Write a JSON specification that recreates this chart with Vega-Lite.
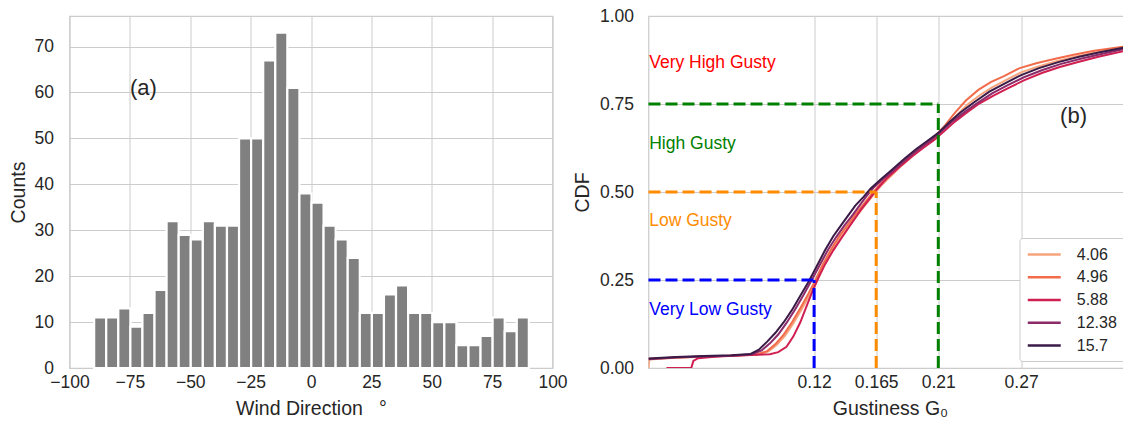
{
  "$schema": "https://vega.github.io/schema/vega-lite/v6.json",
  "background": "white",
  "padding": {"left": 6.5, "top": 6, "right": 0, "bottom": 0},
  "config": {
    "font": "Liberation Sans",
    "view": {"stroke": "#cccccc", "strokeWidth": 1.25},
    "axis": {
      "grid": true,
      "gridColor": "#cccccc",
      "gridWidth": 1,
      "domain": false,
      "ticks": false,
      "labelFlush": false,
      "labelFontSize": 17.5,
      "labelColor": "#262626",
      "titleFontSize": 19.5,
      "titleFontWeight": "normal",
      "titleColor": "#262626"
    }
  },
  "datasets": {
    "hist": [
      {"bin_start": -90, "bin_end": -85, "count": 11},
      {"bin_start": -85, "bin_end": -80, "count": 11},
      {"bin_start": -80, "bin_end": -75, "count": 13},
      {"bin_start": -75, "bin_end": -70, "count": 9},
      {"bin_start": -70, "bin_end": -65, "count": 12},
      {"bin_start": -65, "bin_end": -60, "count": 17},
      {"bin_start": -60, "bin_end": -55, "count": 32},
      {"bin_start": -55, "bin_end": -50, "count": 29},
      {"bin_start": -50, "bin_end": -45, "count": 28},
      {"bin_start": -45, "bin_end": -40, "count": 32},
      {"bin_start": -40, "bin_end": -35, "count": 31},
      {"bin_start": -35, "bin_end": -30, "count": 31},
      {"bin_start": -30, "bin_end": -25, "count": 50},
      {"bin_start": -25, "bin_end": -20, "count": 50},
      {"bin_start": -20, "bin_end": -15, "count": 67},
      {"bin_start": -15, "bin_end": -10, "count": 73},
      {"bin_start": -10, "bin_end": -5, "count": 61},
      {"bin_start": -5, "bin_end": 0, "count": 38},
      {"bin_start": 0, "bin_end": 5, "count": 36},
      {"bin_start": 5, "bin_end": 10, "count": 31},
      {"bin_start": 10, "bin_end": 15, "count": 28},
      {"bin_start": 15, "bin_end": 20, "count": 24},
      {"bin_start": 20, "bin_end": 25, "count": 12},
      {"bin_start": 25, "bin_end": 30, "count": 12},
      {"bin_start": 30, "bin_end": 35, "count": 16},
      {"bin_start": 35, "bin_end": 40, "count": 18},
      {"bin_start": 40, "bin_end": 45, "count": 12},
      {"bin_start": 45, "bin_end": 50, "count": 12},
      {"bin_start": 50, "bin_end": 55, "count": 10},
      {"bin_start": 55, "bin_end": 60, "count": 10},
      {"bin_start": 60, "bin_end": 65, "count": 5},
      {"bin_start": 65, "bin_end": 70, "count": 5},
      {"bin_start": 70, "bin_end": 75, "count": 7},
      {"bin_start": 75, "bin_end": 80, "count": 11},
      {"bin_start": 80, "bin_end": 85, "count": 8},
      {"bin_start": 85, "bin_end": 90, "count": 11}
    ],
    "cdf": [
      {"g": "4.06", "x": 0.0, "y": 0.0},
      {"g": "4.06", "x": 0.0006, "y": 0.024},
      {"g": "4.06", "x": 0.02, "y": 0.029},
      {"g": "4.06", "x": 0.04, "y": 0.032},
      {"g": "4.06", "x": 0.06, "y": 0.035},
      {"g": "4.06", "x": 0.079, "y": 0.038},
      {"g": "4.06", "x": 0.087, "y": 0.047},
      {"g": "4.06", "x": 0.093, "y": 0.066},
      {"g": "4.06", "x": 0.099, "y": 0.092},
      {"g": "4.06", "x": 0.105, "y": 0.127},
      {"g": "4.06", "x": 0.111, "y": 0.167},
      {"g": "4.06", "x": 0.117, "y": 0.21},
      {"g": "4.06", "x": 0.122, "y": 0.248},
      {"g": "4.06", "x": 0.127, "y": 0.29},
      {"g": "4.06", "x": 0.133, "y": 0.333},
      {"g": "4.06", "x": 0.139, "y": 0.37},
      {"g": "4.06", "x": 0.145, "y": 0.402},
      {"g": "4.06", "x": 0.151, "y": 0.433},
      {"g": "4.06", "x": 0.157, "y": 0.463},
      {"g": "4.06", "x": 0.163, "y": 0.492},
      {"g": "4.06", "x": 0.169, "y": 0.52},
      {"g": "4.06", "x": 0.176, "y": 0.547},
      {"g": "4.06", "x": 0.184, "y": 0.577},
      {"g": "4.06", "x": 0.193, "y": 0.608},
      {"g": "4.06", "x": 0.201, "y": 0.634},
      {"g": "4.06", "x": 0.209, "y": 0.659},
      {"g": "4.06", "x": 0.216, "y": 0.688},
      {"g": "4.06", "x": 0.223, "y": 0.717},
      {"g": "4.06", "x": 0.231, "y": 0.748},
      {"g": "4.06", "x": 0.24, "y": 0.775},
      {"g": "4.06", "x": 0.249, "y": 0.797},
      {"g": "4.06", "x": 0.259, "y": 0.818},
      {"g": "4.06", "x": 0.27, "y": 0.84},
      {"g": "4.06", "x": 0.282, "y": 0.856},
      {"g": "4.06", "x": 0.295, "y": 0.871},
      {"g": "4.06", "x": 0.309, "y": 0.884},
      {"g": "4.06", "x": 0.324, "y": 0.896},
      {"g": "4.06", "x": 0.35, "y": 0.912},

      {"g": "4.96", "x": 0.0, "y": 0.026},
      {"g": "4.96", "x": 0.02, "y": 0.03},
      {"g": "4.96", "x": 0.04, "y": 0.033},
      {"g": "4.96", "x": 0.06, "y": 0.035},
      {"g": "4.96", "x": 0.078, "y": 0.038},
      {"g": "4.96", "x": 0.086, "y": 0.048},
      {"g": "4.96", "x": 0.092, "y": 0.068},
      {"g": "4.96", "x": 0.098, "y": 0.095},
      {"g": "4.96", "x": 0.104, "y": 0.13},
      {"g": "4.96", "x": 0.11, "y": 0.17},
      {"g": "4.96", "x": 0.116, "y": 0.212},
      {"g": "4.96", "x": 0.121, "y": 0.25},
      {"g": "4.96", "x": 0.126, "y": 0.292},
      {"g": "4.96", "x": 0.132, "y": 0.335},
      {"g": "4.96", "x": 0.138, "y": 0.373},
      {"g": "4.96", "x": 0.144, "y": 0.405},
      {"g": "4.96", "x": 0.15, "y": 0.437},
      {"g": "4.96", "x": 0.156, "y": 0.466},
      {"g": "4.96", "x": 0.162, "y": 0.495},
      {"g": "4.96", "x": 0.168, "y": 0.522},
      {"g": "4.96", "x": 0.175, "y": 0.548},
      {"g": "4.96", "x": 0.183, "y": 0.578},
      {"g": "4.96", "x": 0.192, "y": 0.61},
      {"g": "4.96", "x": 0.2, "y": 0.636},
      {"g": "4.96", "x": 0.208, "y": 0.66},
      {"g": "4.96", "x": 0.215, "y": 0.69},
      {"g": "4.96", "x": 0.222, "y": 0.725},
      {"g": "4.96", "x": 0.23, "y": 0.76},
      {"g": "4.96", "x": 0.239, "y": 0.79},
      {"g": "4.96", "x": 0.248, "y": 0.812},
      {"g": "4.96", "x": 0.258, "y": 0.83},
      {"g": "4.96", "x": 0.269, "y": 0.852},
      {"g": "4.96", "x": 0.281, "y": 0.866},
      {"g": "4.96", "x": 0.294, "y": 0.878},
      {"g": "4.96", "x": 0.308, "y": 0.89},
      {"g": "4.96", "x": 0.323, "y": 0.901},
      {"g": "4.96", "x": 0.35, "y": 0.916},

      {"g": "5.88", "x": 0.013, "y": 0.0},
      {"g": "5.88", "x": 0.031, "y": 0.0},
      {"g": "5.88", "x": 0.0325, "y": 0.02},
      {"g": "5.88", "x": 0.036, "y": 0.028},
      {"g": "5.88", "x": 0.05, "y": 0.033},
      {"g": "5.88", "x": 0.07, "y": 0.036},
      {"g": "5.88", "x": 0.088, "y": 0.039},
      {"g": "5.88", "x": 0.094, "y": 0.045},
      {"g": "5.88", "x": 0.1, "y": 0.06},
      {"g": "5.88", "x": 0.105, "y": 0.09},
      {"g": "5.88", "x": 0.11, "y": 0.13},
      {"g": "5.88", "x": 0.115, "y": 0.18},
      {"g": "5.88", "x": 0.119, "y": 0.22},
      {"g": "5.88", "x": 0.123, "y": 0.255},
      {"g": "5.88", "x": 0.128, "y": 0.295},
      {"g": "5.88", "x": 0.134, "y": 0.335},
      {"g": "5.88", "x": 0.14, "y": 0.37},
      {"g": "5.88", "x": 0.147, "y": 0.41},
      {"g": "5.88", "x": 0.154, "y": 0.45},
      {"g": "5.88", "x": 0.16, "y": 0.48},
      {"g": "5.88", "x": 0.166, "y": 0.51},
      {"g": "5.88", "x": 0.173, "y": 0.54},
      {"g": "5.88", "x": 0.181, "y": 0.568},
      {"g": "5.88", "x": 0.19, "y": 0.598},
      {"g": "5.88", "x": 0.199, "y": 0.625},
      {"g": "5.88", "x": 0.207, "y": 0.648},
      {"g": "5.88", "x": 0.214, "y": 0.672},
      {"g": "5.88", "x": 0.222, "y": 0.7},
      {"g": "5.88", "x": 0.231, "y": 0.727},
      {"g": "5.88", "x": 0.24, "y": 0.752},
      {"g": "5.88", "x": 0.25, "y": 0.774},
      {"g": "5.88", "x": 0.261, "y": 0.796},
      {"g": "5.88", "x": 0.272, "y": 0.817},
      {"g": "5.88", "x": 0.285, "y": 0.838},
      {"g": "5.88", "x": 0.298, "y": 0.855},
      {"g": "5.88", "x": 0.312, "y": 0.87},
      {"g": "5.88", "x": 0.326, "y": 0.884},
      {"g": "5.88", "x": 0.35, "y": 0.905},

      {"g": "12.38", "x": 0.0, "y": 0.025},
      {"g": "12.38", "x": 0.02, "y": 0.03},
      {"g": "12.38", "x": 0.04, "y": 0.033},
      {"g": "12.38", "x": 0.06, "y": 0.035},
      {"g": "12.38", "x": 0.075, "y": 0.039},
      {"g": "12.38", "x": 0.082, "y": 0.05},
      {"g": "12.38", "x": 0.088, "y": 0.07},
      {"g": "12.38", "x": 0.094, "y": 0.095},
      {"g": "12.38", "x": 0.1, "y": 0.128},
      {"g": "12.38", "x": 0.106, "y": 0.165},
      {"g": "12.38", "x": 0.112, "y": 0.205},
      {"g": "12.38", "x": 0.118, "y": 0.248},
      {"g": "12.38", "x": 0.124, "y": 0.292},
      {"g": "12.38", "x": 0.13, "y": 0.335},
      {"g": "12.38", "x": 0.136, "y": 0.372},
      {"g": "12.38", "x": 0.142, "y": 0.405},
      {"g": "12.38", "x": 0.148, "y": 0.435},
      {"g": "12.38", "x": 0.153, "y": 0.462},
      {"g": "12.38", "x": 0.158, "y": 0.488},
      {"g": "12.38", "x": 0.163, "y": 0.512},
      {"g": "12.38", "x": 0.17, "y": 0.537},
      {"g": "12.38", "x": 0.178, "y": 0.563},
      {"g": "12.38", "x": 0.187, "y": 0.594},
      {"g": "12.38", "x": 0.196, "y": 0.622},
      {"g": "12.38", "x": 0.204, "y": 0.645},
      {"g": "12.38", "x": 0.211, "y": 0.668},
      {"g": "12.38", "x": 0.219, "y": 0.697},
      {"g": "12.38", "x": 0.228, "y": 0.724},
      {"g": "12.38", "x": 0.238, "y": 0.752},
      {"g": "12.38", "x": 0.249, "y": 0.78},
      {"g": "12.38", "x": 0.26, "y": 0.803},
      {"g": "12.38", "x": 0.272, "y": 0.826},
      {"g": "12.38", "x": 0.285, "y": 0.846},
      {"g": "12.38", "x": 0.299, "y": 0.864},
      {"g": "12.38", "x": 0.314, "y": 0.879},
      {"g": "12.38", "x": 0.329, "y": 0.893},
      {"g": "12.38", "x": 0.35, "y": 0.911},

      {"g": "15.7", "x": 0.0, "y": 0.027},
      {"g": "15.7", "x": 0.02, "y": 0.031},
      {"g": "15.7", "x": 0.04, "y": 0.034},
      {"g": "15.7", "x": 0.06, "y": 0.036},
      {"g": "15.7", "x": 0.074, "y": 0.04},
      {"g": "15.7", "x": 0.08, "y": 0.052},
      {"g": "15.7", "x": 0.086, "y": 0.075},
      {"g": "15.7", "x": 0.092, "y": 0.1},
      {"g": "15.7", "x": 0.098, "y": 0.13},
      {"g": "15.7", "x": 0.104, "y": 0.165},
      {"g": "15.7", "x": 0.11, "y": 0.205},
      {"g": "15.7", "x": 0.116, "y": 0.245},
      {"g": "15.7", "x": 0.122, "y": 0.29},
      {"g": "15.7", "x": 0.128, "y": 0.335},
      {"g": "15.7", "x": 0.134, "y": 0.375},
      {"g": "15.7", "x": 0.14, "y": 0.408},
      {"g": "15.7", "x": 0.145, "y": 0.435},
      {"g": "15.7", "x": 0.15, "y": 0.462},
      {"g": "15.7", "x": 0.156, "y": 0.487},
      {"g": "15.7", "x": 0.161, "y": 0.51},
      {"g": "15.7", "x": 0.168, "y": 0.535},
      {"g": "15.7", "x": 0.176, "y": 0.562},
      {"g": "15.7", "x": 0.185, "y": 0.593},
      {"g": "15.7", "x": 0.194, "y": 0.622},
      {"g": "15.7", "x": 0.202, "y": 0.645},
      {"g": "15.7", "x": 0.21, "y": 0.668},
      {"g": "15.7", "x": 0.218, "y": 0.698},
      {"g": "15.7", "x": 0.226, "y": 0.726},
      {"g": "15.7", "x": 0.236, "y": 0.755},
      {"g": "15.7", "x": 0.247, "y": 0.785},
      {"g": "15.7", "x": 0.258, "y": 0.808},
      {"g": "15.7", "x": 0.27, "y": 0.832},
      {"g": "15.7", "x": 0.283, "y": 0.852},
      {"g": "15.7", "x": 0.297, "y": 0.869},
      {"g": "15.7", "x": 0.312, "y": 0.884},
      {"g": "15.7", "x": 0.327, "y": 0.897},
      {"g": "15.7", "x": 0.35, "y": 0.914}
    ],
    "veryLow": [
      {"x": 0, "x2": 0.12, "y": 0.25, "y2": 0.25},
      {"x": 0.12, "x2": 0.12, "y": 0, "y2": 0.25}
    ],
    "low": [
      {"x": 0, "x2": 0.165, "y": 0.5, "y2": 0.5},
      {"x": 0.165, "x2": 0.165, "y": 0, "y2": 0.5}
    ],
    "high": [
      {"x": 0, "x2": 0.21, "y": 0.75, "y2": 0.75},
      {"x": 0.21, "x2": 0.21, "y": 0, "y2": 0.75}
    ]
  },
  "bounds": "flush",
  "spacing": 96,
  "resolve": {"scale": {"color": "independent"}, "legend": {"color": "independent"}},
  "hconcat": [
    {
      "width": 483,
      "height": 352,
      "layer": [
        {
          "data": {"name": "hist"},
          "mark": {"type": "bar", "color": "#808080", "stroke": "white", "strokeWidth": 2.2, "binSpacing": 0},
          "encoding": {
            "x": {
              "field": "bin_start",
              "type": "quantitative",
              "bin": {"binned": true, "step": 5},
              "scale": {"domain": [-100, 100], "nice": false, "zero": false},
              "axis": {
                "values": [-100, -75, -50, -25, 0, 25, 50, 75, 100],
                "format": "d",
                "title": "Wind Direction\u00a0\u00a0\u00a0°",
                "labelPadding": 5,
                "titlePadding": 9
              }
            },
            "x2": {"field": "bin_end"},
            "y": {
              "field": "count",
              "type": "quantitative",
              "scale": {"domain": [0, 76.65], "nice": false},
              "axis": {
                "values": [0, 10, 20, 30, 40, 50, 60, 70],
                "title": "Counts",
                "labelPadding": 16,
                "titlePadding": 6
              }
            }
          }
        },
        {
          "data": {"values": [{"x": -75, "y": 61, "t": "(a)"}]},
          "mark": {"type": "text", "align": "left", "baseline": "middle", "fontSize": 22, "color": "#262626"},
          "encoding": {
            "x": {"field": "x", "type": "quantitative"},
            "y": {"field": "y", "type": "quantitative"},
            "text": {"field": "t"}
          }
        }
      ]
    },
    {
      "width": 483,
      "height": 352,
      "encoding": {
        "x": {
          "type": "quantitative",
          "scale": {"domain": [0, 0.35], "nice": false, "zero": false},
          "axis": {
            "values": [0.12, 0.165, 0.21, 0.27],
            "format": ".3~f",
            "title": "Gustiness G₀",
            "labelPadding": 5,
            "titlePadding": 9
          }
        },
        "y": {
          "type": "quantitative",
          "scale": {"domain": [0, 1], "nice": false},
          "axis": {
            "values": [0, 0.25, 0.5, 0.75, 1],
            "format": ".2f",
            "title": "CDF",
            "labelPadding": 15,
            "titlePadding": 7
          }
        }
      },
      "layer": [
        {
          "data": {"name": "cdf"},
          "mark": {"type": "line", "strokeWidth": 2, "clip": true},
          "encoding": {
            "x": {"field": "x", "type": "quantitative"},
            "y": {"field": "y", "type": "quantitative"},
            "color": {
              "field": "g",
              "type": "nominal",
              "scale": {
                "domain": ["4.06", "4.96", "5.88", "12.38", "15.7"],
                "range": ["#f6a47c", "#f26b4b", "#d01f51", "#8b2b69", "#3a1b47"]
              },
              "legend": {
                "title": null,
                "orient": "bottom-right",
                "offset": 7,
                "symbolType": "M-2,0H2",
                "symbolStrokeWidth": 2.5,
                "symbolSize": 272,
                "symbolOffset": 8.25,
                "labelFontSize": 16,
                "labelColor": "#262626",
                "labelOffset": 23,
                "rowPadding": 4.75,
                "padding": 7,
                "strokeColor": "#cccccc",
                "fillColor": "white",
                "cornerRadius": 3
              }
            }
          }
        },
        {
          "data": {"name": "veryLow"},
          "mark": {"type": "rule", "color": "#0000ff", "strokeWidth": 3, "strokeDash": [12, 5]},
          "encoding": {
            "x": {"field": "x", "type": "quantitative"},
            "x2": {"field": "x2"},
            "y": {"field": "y", "type": "quantitative"},
            "y2": {"field": "y2"}
          }
        },
        {
          "data": {"name": "low"},
          "mark": {"type": "rule", "color": "#ff8c00", "strokeWidth": 3, "strokeDash": [12, 5]},
          "encoding": {
            "x": {"field": "x", "type": "quantitative"},
            "x2": {"field": "x2"},
            "y": {"field": "y", "type": "quantitative"},
            "y2": {"field": "y2"}
          }
        },
        {
          "data": {"name": "high"},
          "mark": {"type": "rule", "color": "#008000", "strokeWidth": 3, "strokeDash": [12, 5]},
          "encoding": {
            "x": {"field": "x", "type": "quantitative"},
            "x2": {"field": "x2"},
            "y": {"field": "y", "type": "quantitative"},
            "y2": {"field": "y2"}
          }
        },
        {
          "data": {"values": [{"x": 0.0005, "y": 0.866, "t": "Very High Gusty"}]},
          "mark": {"type": "text", "align": "left", "baseline": "middle", "fontSize": 17.5, "color": "#ff0000"},
          "encoding": {"x": {"field": "x", "type": "quantitative"}, "y": {"field": "y", "type": "quantitative"}, "text": {"field": "t"}}
        },
        {
          "data": {"values": [{"x": 0.0005, "y": 0.636, "t": "High Gusty"}]},
          "mark": {"type": "text", "align": "left", "baseline": "middle", "fontSize": 17.5, "color": "#008000"},
          "encoding": {"x": {"field": "x", "type": "quantitative"}, "y": {"field": "y", "type": "quantitative"}, "text": {"field": "t"}}
        },
        {
          "data": {"values": [{"x": 0.0005, "y": 0.417, "t": "Low Gusty"}]},
          "mark": {"type": "text", "align": "left", "baseline": "middle", "fontSize": 17.5, "color": "#ff8c00"},
          "encoding": {"x": {"field": "x", "type": "quantitative"}, "y": {"field": "y", "type": "quantitative"}, "text": {"field": "t"}}
        },
        {
          "data": {"values": [{"x": 0.0005, "y": 0.164, "t": "Very Low Gusty"}]},
          "mark": {"type": "text", "align": "left", "baseline": "middle", "fontSize": 17.5, "color": "#0000ff"},
          "encoding": {"x": {"field": "x", "type": "quantitative"}, "y": {"field": "y", "type": "quantitative"}, "text": {"field": "t"}}
        },
        {
          "data": {"values": [{"x": 0.308, "y": 0.716, "t": "(b)"}]},
          "mark": {"type": "text", "align": "center", "baseline": "middle", "fontSize": 22, "color": "#262626"},
          "encoding": {"x": {"field": "x", "type": "quantitative"}, "y": {"field": "y", "type": "quantitative"}, "text": {"field": "t"}}
        }
      ]
    }
  ]
}
